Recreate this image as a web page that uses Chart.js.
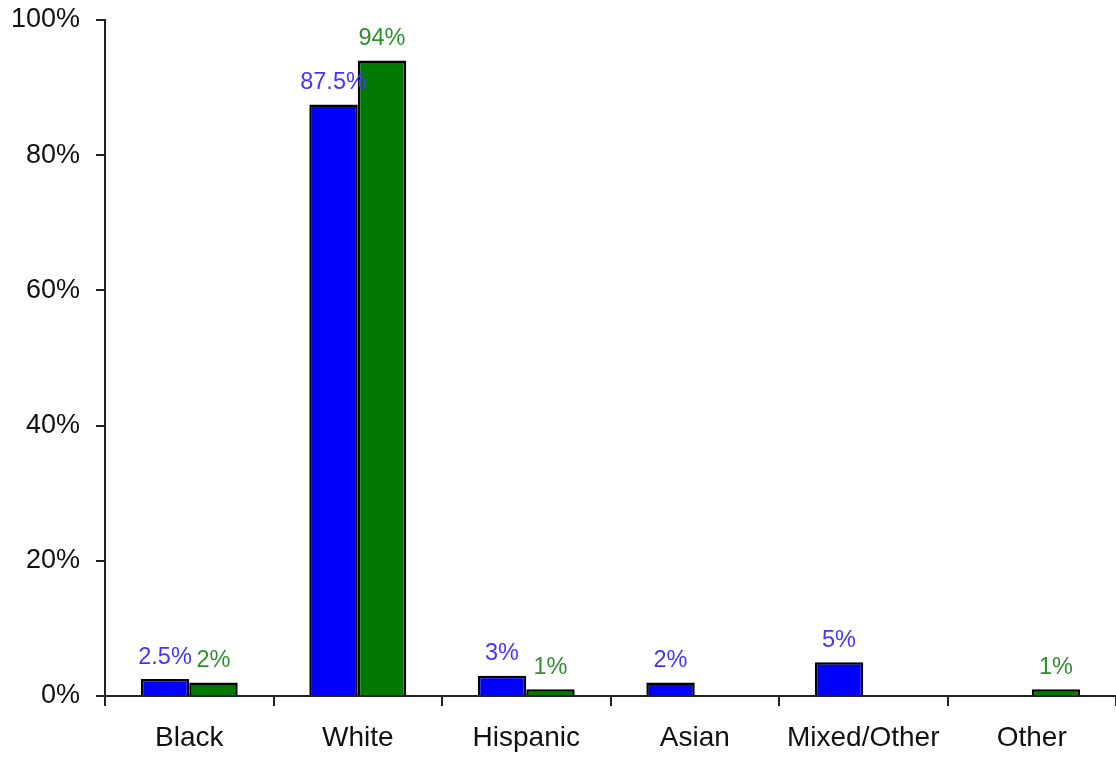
<!DOCTYPE html>
<html>
<head>
<meta charset="utf-8">
<script src="https://cdn.jsdelivr.net/npm/chart.js@4/dist/chart.umd.min.js"></script>
<style>
html,body{margin:0;padding:0;background:#fff;}
#wrap{width:1116px;height:757px;}
</style>
</head>
<body>
<div id="wrap"><canvas id="c" width="1116" height="757"></canvas></div>
<script>
const categories = ["Black", "White", "Hispanic", "Asian", "Mixed/Other", "Other"];
const seriesA = [2.5, 87.5, 3, 2, 5, null];
const seriesB = [2, 94, 1, null, null, 1];
const yTicks = [0, 20, 40, 60, 80, 100];

const labelPlugin = {
  id: 'barLabels',
  afterDatasetsDraw(chart) {
    const ctx = chart.ctx;
    ctx.save();
    ctx.font = '23.5px "Liberation Sans", Arial, sans-serif';
    ctx.textAlign = 'center';
    ctx.textBaseline = 'bottom';
    chart.data.datasets.forEach((ds, i) => {
      const meta = chart.getDatasetMeta(i);
      meta.data.forEach((bar, j) => {
        const v = ds.data[j];
        if (v === null || v === undefined) return;
        ctx.fillStyle = ds.labelColor;
        ctx.fillText(v + '%', bar.x, bar.y - 10);
      });
    });
    ctx.restore();
  }
};

new Chart(document.getElementById('c'), {
  type: 'bar',
  data: {
    labels: categories,
    datasets: [
      { data: seriesA, backgroundColor: '#0000ff', borderColor: '#000', borderWidth: 2.5, labelColor: '#4433ff' },
      { data: seriesB, backgroundColor: '#007a00', borderColor: '#000', borderWidth: 2.5, labelColor: '#2f8f2f' }
    ]
  },
  options: {
    responsive: false,
    animation: false,
    layout: { padding: { top: 20, right: 0, bottom: 0, left: 0 } },
    plugins: { legend: { display: false }, tooltip: { enabled: false } },
    datasets: { bar: { categoryPercentage: 0.575, barPercentage: 1.0 } },
    scales: {
      x: {
        offset: true,
        grid: { display: true, drawOnChartArea: false, offset: true, color: '#222', tickLength: 10, lineWidth: 2 },
        border: { display: true, color: '#222', width: 2 },
        ticks: { color: '#111', font: { family: '"Liberation Sans", Arial, sans-serif', size: 28 }, padding: 15, maxRotation: 0 },
        afterFit(s) { s.height = 61; s.paddingLeft = 0; s.paddingRight = 0; }
      },
      y: {
        min: 0, max: 100,
        afterBuildTicks(s) { s.ticks = yTicks.map(v => ({ value: v })); },
        grid: { display: true, drawOnChartArea: false, color: '#222', tickLength: 9, lineWidth: 2 },
        border: { display: true, color: '#222', width: 2 },
        ticks: { color: '#111', font: { family: '"Liberation Sans", Arial, sans-serif', size: 27 }, padding: 16, callback: v => v + '%' },
        afterFit(s) { s.width = 105; s.paddingTop = 0; s.paddingBottom = 0; }
      }
    }
  },
  plugins: [labelPlugin]
});
</script>
</body>
</html>
